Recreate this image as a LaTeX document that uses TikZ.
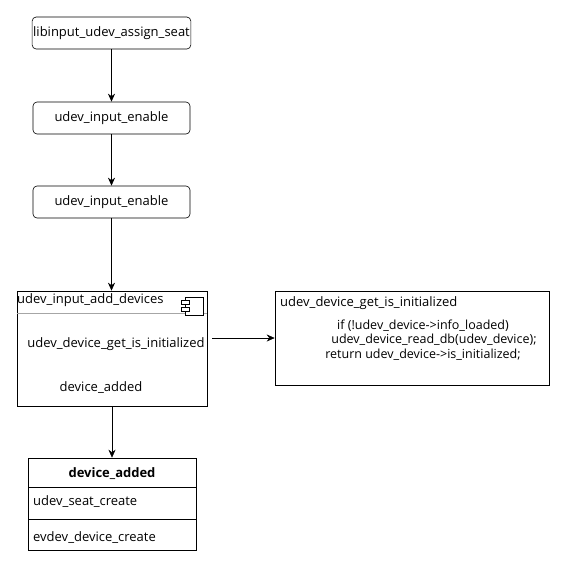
\documentclass[tikz,border=0pt]{standalone}
\usepackage{fontspec}
\setmainfont{Open Sans}
\usetikzlibrary{arrows.meta,calc}

\tikzset{
  flow/.style={draw, semithick, rounded corners=4pt, minimum width=157pt, minimum height=32pt, inner sep=1pt},
  arr/.style={-{Stealth[length=8pt,width=7pt]}, semithick},
  txt/.style={inner sep=0pt, font=\fontsize{13}{15}\selectfont},
  codetxt/.style={inner sep=0pt, font=\fontsize{12.5}{14}\selectfont},
}

\begin{document}
\begin{tikzpicture}[x=1pt, y=-1pt, font=\fontsize{13}{15}\selectfont]
        \useasboundingbox (0,0) rectangle (567,576);
        % Call chain
        \node[flow] (seat) at (111.5,33) {libinput\_udev\_assign\_seat};
        \node[flow] (enable1) at (111.5,118) {udev\_input\_enable};
        \node[flow] (enable2) at (111.5,202) {udev\_input\_enable};
        % Component box
        \node[draw, semithick, minimum width=190pt, minimum height=115pt, inner sep=0pt] (comp) at (112,348.5) {};
        \draw[gray!70] ($(comp.north west)+(0,22)$) -- ($(comp.north east)+(0,22)$);
        \node[txt, anchor=west] (compname) at (17,300) {udev\_input\_add\_devices};
        \draw[semithick, fill=white] (185,297) rectangle (203,315);
        \draw[semithick, fill=white] (181,300) rectangle (189,304);
        \draw[semithick, fill=white] (181,307) rectangle (189,311);
        \node[txt] (isinit) at (116,344) {udev\_device\_get\_is\_initialized};
        \node[txt] (added) at (101,388) {device\_added};
        % Code box
        \node[draw, semithick, minimum width=274pt, minimum height=94pt, inner sep=0pt] (code) at (412,338) {};
        \node[txt, anchor=west] (codename) at (280,303) {udev\_device\_get\_is\_initialized};
        \node[codetxt] (line1) at (423,326) {if (!udev\_device->info\_loaded)};
        \node[codetxt] (line2) at (434,340) {udev\_device\_read\_db(udev\_device);};
        \node[codetxt] (line3) at (423,355) {return udev\_device->is\_initialized;};
        % Class box
        \node[draw, semithick, minimum width=168pt, minimum height=92pt, inner sep=0pt] (cls) at (112,504) {};
        \draw[semithick] (28,487) -- (196,487);
        \draw[semithick] (28,519) -- (196,519);
        \node[txt, font=\fontsize{13}{15}\selectfont\bfseries] (clsname) at (112,474) {device\_added};
        \node[txt, anchor=west] (seatcreate) at (33,502) {udev\_seat\_create};
        \node[txt, anchor=west] (evdev) at (33,538) {evdev\_device\_create};
        % Connectors
        \draw[arr] (seat) -- (enable1);
        \draw[arr] (enable1) -- (enable2);
        \draw[arr] (enable2) -- (comp.north-|enable2);
        \coordinate (callstart) at ($(comp.east|-code.west)+(5,0)$);
        \draw[arr] (callstart) -- (code.west);
        \draw[arr] (comp.south-|cls.north) -- (cls.north);
    \end{tikzpicture}
\end{document}
